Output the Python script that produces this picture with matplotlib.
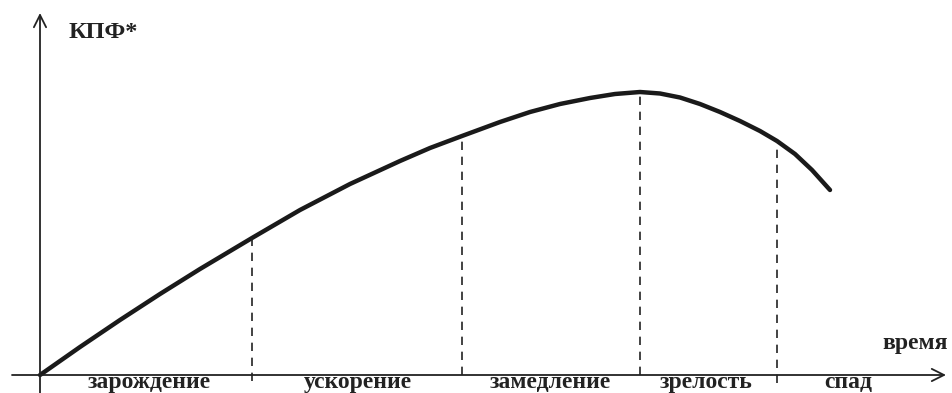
import matplotlib
matplotlib.use("Agg")
import matplotlib.pyplot as plt

# Curve (time units, KPF units), origin at axis crossing
time = [0, 40, 80, 120, 160, 212, 260, 310, 360, 390, 422, 460, 490, 520, 550, 575, 600,
        620, 640, 660, 680, 700, 720, 737, 755, 772, 790]
kpf = [0, 28, 55, 81, 106, 137, 165, 191, 214, 227, 239, 253, 263, 271, 277, 281, 283,
       281.5, 277.5, 271, 263, 254, 244, 234, 221, 205, 185]

# Phase boundaries (time) and their curve heights
bounds = [212, 422, 600, 737]
bound_kpf = [137, 239, 283, 234]
bound_below = [6, 0, 0, 8]

phases = ["зарождение", "ускорение", "замедление", "зрелость", "спад"]
phase_x = [109, 318, 510, 666, 808]

fig = plt.figure(figsize=(9.53, 3.93), dpi=100)
ax = fig.add_axes([0, 0, 1, 1])
ax.set_xlim(-40, 913)
ax.set_ylim(-18, 375)
ax.axis("off")

font = dict(family="Liberation Serif", weight="bold", color="#222222")

ax.annotate("", xy=(906, 0), xytext=(-28, 0),
            arrowprops=dict(arrowstyle="->", lw=1.3, color="#222222", mutation_scale=22,
                            shrinkA=0, shrinkB=0))
ax.annotate("", xy=(0, 362), xytext=(0, -18),
            arrowprops=dict(arrowstyle="->", lw=1.3, color="#222222", mutation_scale=22,
                            shrinkA=0, shrinkB=0))

ax.plot(time, kpf, color="#1a1a1a", lw=3.2, solid_joinstyle="round", solid_capstyle="round")

for b, h, d in zip(bounds, bound_kpf, bound_below):
    ax.plot([b, b], [-d, h], color="#222222", lw=1.2, dashes=(5, 4))

for name, x in zip(phases, phase_x):
    ax.text(x, -7.5, name, ha="center", va="center", fontsize=17, **font)

ax.text(908, 32, "время", ha="right", va="center", fontsize=17, **font)
ax.text(29, 342, "КПФ*", ha="left", va="center", fontsize=17.5, **font)

fig.savefig("out.png", dpi=100)
